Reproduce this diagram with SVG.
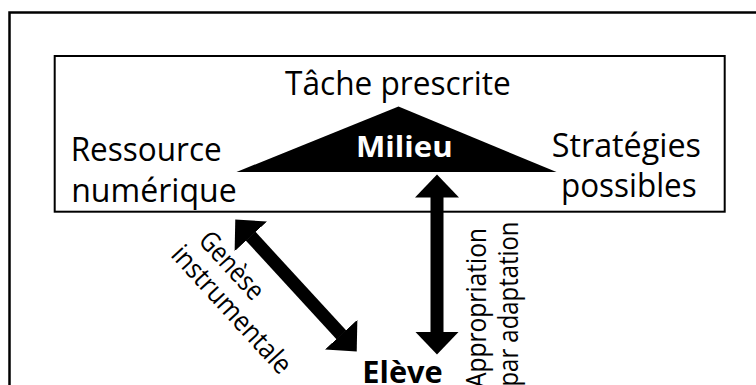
<svg xmlns="http://www.w3.org/2000/svg" width="756" height="385" viewBox="0 0 756 385">
  <style>
    .frame { fill: none; stroke: #000; }
    .t { font-family: "Open Sans", "Liberation Sans", sans-serif; fill: #000; }
    .reg { font-size: 32.5px; }
    .rot { font-size: 27.5px; }
    .bold { font-weight: bold; }
    .conn { stroke: #000; stroke-width: 13; fill: none; marker-start: url(#head); marker-end: url(#head); }
  </style>
  <defs>
    <marker id="head" markerUnits="userSpaceOnUse" markerWidth="24" markerHeight="46" viewBox="0 -23 24 46" refX="0.5" refY="0" orient="auto-start-reverse">
      <path d="M0,-22 L23,0 L0,22 Z" fill="#000"/>
    </marker>
  </defs>
  <rect width="756" height="385" fill="#fff"/>
  <rect class="frame" x="9.5" y="12.5" width="780" height="420" stroke-width="2.5"/>

  <g id="contexte">
    <rect class="frame" x="54.7" y="56" width="670" height="155.7" stroke-width="2"/>
    <text class="t reg" x="285" y="95" textLength="225.7" lengthAdjust="spacingAndGlyphs">Tâche prescrite</text>
    <text class="t reg" x="70.7" y="160.7" textLength="151" lengthAdjust="spacingAndGlyphs">Ressource</text>
    <text class="t reg" x="71.2" y="201.7" textLength="165.5" lengthAdjust="spacingAndGlyphs">numérique</text>
    <text class="t reg" x="551.7" y="156.7" textLength="149.3" lengthAdjust="spacingAndGlyphs">Stratégies</text>
    <text class="t reg" x="561" y="196.7" textLength="135.7" lengthAdjust="spacingAndGlyphs">possibles</text>
  </g>

  <g id="milieu">
    <polygon points="398.5,106.5 556.5,172 236.5,172" fill="#000"/>
    <text class="t bold" x="356" y="157" font-size="28" fill="#fff" style="fill:#fff" textLength="96.7" lengthAdjust="spacingAndGlyphs">Milieu</text>
  </g>

  <g id="eleve">
    <text class="t bold" x="362.3" y="383" font-size="31" textLength="80.4" lengthAdjust="spacingAndGlyphs">Elève</text>
  </g>

  <g id="connecteurs">
    <line class="conn" x1="250.5" y1="236" x2="341.5" y2="335"/>
    <line class="conn" x1="437" y1="197" x2="437" y2="332"/>
    <text class="t rot" transform="translate(224.9,271.7) rotate(47.5)" text-anchor="middle" textLength="82" lengthAdjust="spacingAndGlyphs">Genèse</text>
    <text class="t rot" transform="translate(224.8,315.8) rotate(47.5)" text-anchor="middle" textLength="163" lengthAdjust="spacingAndGlyphs">instrumentale</text>
    <text class="t rot" transform="translate(486,228) rotate(-90)" text-anchor="end" textLength="160" lengthAdjust="spacingAndGlyphs">Appropriation</text>
    <text class="t rot" transform="translate(518,221.5) rotate(-90)" text-anchor="end" textLength="165" lengthAdjust="spacingAndGlyphs">par adaptation</text>
  </g>
</svg>
